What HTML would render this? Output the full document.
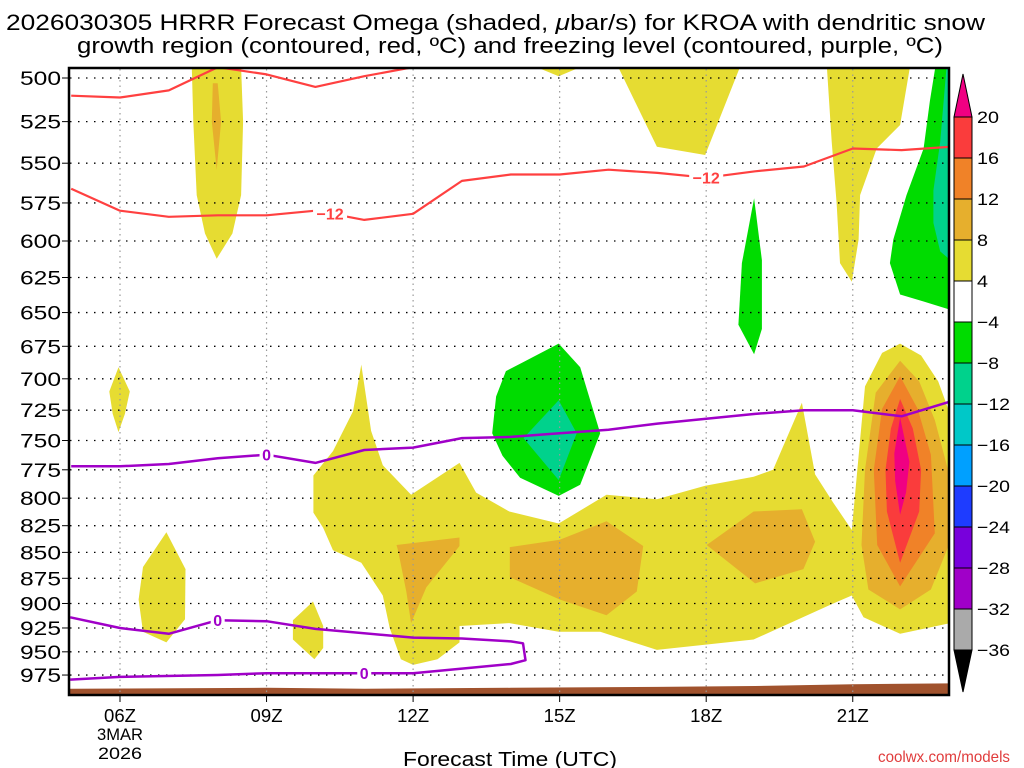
<!DOCTYPE html>
<html><head><meta charset="utf-8">
<style>
html,body{margin:0;padding:0;background:#fff;}
svg{display:block;font-family:"Liberation Sans",sans-serif;}
</style></head>
<body>
<svg id="chart" width="1024" height="768" viewBox="0 0 1024 768" xmlns="http://www.w3.org/2000/svg">
<defs><clipPath id="plotclip"><rect x="69" y="68" width="880" height="627"/></clipPath></defs>
<text x="6" y="30" font-size="22" textLength="979" lengthAdjust="spacingAndGlyphs" fill="#000">2026030305 HRRR Forecast Omega (shaded, <tspan font-style="italic">μ</tspan>bar/s) for KROA with dendritic snow</text>
<text x="77" y="53" font-size="22" textLength="866" lengthAdjust="spacingAndGlyphs" fill="#000">growth region (contoured, red, ºC) and freezing level (contoured, purple, ºC)</text>
<g id="shade" clip-path="url(#plotclip)"></g>
<g id="grid"></g>
<g id="lines" clip-path="url(#plotclip)"></g>
<g id="axes"></g>
<g id="cbar"></g>
<text x="403" y="766" font-size="20" textLength="214" lengthAdjust="spacingAndGlyphs" fill="#000">Forecast Time (UTC)</text>
<text x="878" y="762" font-size="16" textLength="132" lengthAdjust="spacingAndGlyphs" fill="#e03c3c">coolwx.com/models</text>
</svg>
<script>
// axis ticks
const pressureTicks = [500,525,550,575,600,625,650,675,700,725,750,775,800,825,850,875,900,925,950,975];
const timeTicks = [6,9,12,15,18,21];
const timeTickLabels = ["06Z","09Z","12Z","15Z","18Z","21Z"];
// contour series (hour -> pressure)
const hours = [5,6,7,8,9,10,11,12,13,14,15,16,17,18,19,20,21,22,23];
const dgzWarm = [566,580,584,583,583,580,586,582,561,557,557,554,556,559,555,552,541,542,540];
const dgzColdH = [5,6,7,8,9,10,11,12];
const dgzCold = [510,511,507,494,498,505,499,494];
const frzUpper = [772,772,770,765,762,769,758,756,748,747,744,741,736,732,728,725,725,730,718];
const frzLowerH = [4.98,6,7,8,9,10,12,13,14,14.25,14.3,14,13,12,11,9,8,6,4.98];
const frzLowerP = [914,925,931,917,918,926,935,936,939,941,959,963,968,973,973,973,975,977,980];
const groundH = [5,9,11,14,17,19,21,23];
const groundP = [990,989,990,989,988,987,985,984];
// shaded omega regions: [hour, pressure] vertices
const c4 = "#e6dc32", c8 = "#e6af2d", c12 = "#f08228", c16 = "#fa3c3c", c20 = "#f00082", cm4 = "#00dc00", cm8 = "#00d28c";
const regYellowTop = [[7.47,494],[8.48,494],[8.52,525],[8.48,570],[8.3,595],[7.98,612],[7.74,595],[7.57,570],[7.5,525]];
const regOrangeTop = [[7.9,503],[8.0,503],[8.07,525],[7.98,554],[7.88,525]];
const regYellowSmall6 = [[5.97,691],[6.2,710],[6.1,728],[5.97,743],[5.85,728],[5.78,710]];
const regYellow7 = [[6.95,831],[7.34,866],[7.33,916],[6.95,940],[6.47,929],[6.38,896],[6.47,864]];
const regYellow95 = [[9.95,898],[10.16,923],[10.16,946],[9.98,958],[9.54,937],[9.54,917]];
const regYellowBand = [[10.94,689],[11.14,742],[11.38,771],[11.96,797],[12.95,769],[13.29,795],[13.97,812],[14.98,823],[15.96,797],[16.99,801],[17.98,789],[18.97,781],[19.37,775],[19.96,719],[20.23,779],[20.6,804],[20.98,829],[21.25,706],[21.6,680],[21.97,673],[22.4,682],[22.75,702],[22.99,728],[22.99,920],[21.97,931],[21.22,914],[20.98,892],[20.6,900],[18.97,937],[16.99,948],[15.83,929],[14.98,929],[13.97,920],[12.95,923],[12.95,940],[12.5,958],[12.0,964],[11.75,958],[11.52,925],[11.38,892],[10.94,860],[10.36,848],[10.16,827],[9.96,813],[9.96,780],[10.36,759],[10.77,726]];
const regOrange12Z = [[11.66,843],[12.95,836],[12.95,844],[12.27,884],[11.96,920],[11.86,888],[11.69,848]];
const regOrange15Z = [[13.98,845],[15.0,838],[15.96,821],[16.71,844],[16.58,888],[15.96,912],[15.0,896],[13.98,874]];
const regOrange19Z = [[18.01,843],[18.97,812],[19.96,810],[20.23,840],[19.99,866],[19.0,880]];
const regCore8 = [[21.97,686],[22.36,702],[22.68,733],[22.95,775],[22.95,845],[22.6,886],[21.97,906],[21.32,886],[21.18,843],[21.25,775],[21.47,711]];
const regCore12 = [[21.97,698],[22.33,724],[22.6,762],[22.68,832],[21.97,883],[21.5,843],[21.43,775],[21.6,724]];
const regCore16 = [[21.97,716],[22.23,740],[22.4,775],[22.36,812],[21.97,860],[21.7,812],[21.67,775],[21.78,740]];
const regCore20 = [[21.97,731],[22.16,768],[22.09,795],[21.97,815],[21.87,785],[21.85,761]];
const regYellowTop15 = [[14.53,494],[15.42,494],[14.98,499]];
const regYellowTop17 = [[16.2,494],[18.69,494],[17.98,545],[16.99,540]];
const regYellowTop21 = [[20.47,494],[22.17,494],[21.97,527],[21.49,541],[21.15,570],[21.12,599],[20.98,628],[20.74,615],[20.67,575],[20.57,537]];
const regGreenRight = [[22.69,494],[23.0,494],[23.0,648],[22.45,642],[21.97,637],[21.76,615],[21.83,599],[22.1,570],[22.45,541],[22.58,513]];
const regTealRight = [[22.92,494],[23.0,494],[23.0,613],[22.79,607],[22.65,588],[22.65,567],[22.79,537]];
const regGreen19 = [[18.98,572],[19.14,613],[19.14,662],[18.98,681],[18.66,659],[18.73,615]];
const regGreen15 = [[13.9,694],[13.7,714],[13.62,744],[13.83,763],[14.19,782],[14.98,798],[15.42,788],[15.83,744],[15.42,691],[14.98,673],[14.26,687]];
const regTeal15 = [[14.98,717],[15.35,744],[14.98,784],[14.26,748]];
// colorbar
const cbLevels = [20,16,12,8,4,-4,-8,-12,-16,-20,-24,-28,-32,-36];
const cbColors = ["#fa3c3c","#f08228","#e6af2d","#e6dc32","#ffffff","#00dc00","#00d28c","#00c8c8","#00a0ff","#1e3cff","#7800dc","#a000c8","#aaaaaa"];

const NS = "http://www.w3.org/2000/svg";
function X(h){ return 120 + (h-6)*48.85; }
function Y(p){ return 78 + 894*Math.log(p/500); }
function mk(tag, attrs, parent){ const e=document.createElementNS(NS,tag); for(const k in attrs) e.setAttribute(k,attrs[k]); parent.appendChild(e); return e; }
const shade=document.getElementById('shade'), grid=document.getElementById('grid'), lines=document.getElementById('lines'), axes=document.getElementById('axes'), cbar=document.getElementById('cbar');

function poly(pts, color, name){
  const e = mk('polygon',{points: pts.map(q=>X(q[0]).toFixed(1)+','+Y(q[1]).toFixed(1)).join(' '), fill: color}, shade);
  
  
}
poly(regYellowTop, c4, 'omega-4-8-top-8z');
poly(regOrangeTop, c8, 'omega-8-12-top-8z');
poly(regYellowSmall6, c4, 'omega-4-8-6z');
poly(regYellow7, c4, 'omega-4-8-7z');
poly(regYellow95, c4, 'omega-4-8-10z');
poly(regYellowBand, c4, 'omega-4-8-low-band');
poly(regOrange12Z, c8, 'omega-8-12-12z');
poly(regOrange15Z, c8, 'omega-8-12-15z');
poly(regOrange19Z, c8, 'omega-8-12-19z');
poly(regCore8, c8, 'omega-8-12-22z');
poly(regCore12, c12, 'omega-12-16-22z');
poly(regCore16, c16, 'omega-16-20-22z');
poly(regCore20, c20, 'omega-20-plus-22z');
poly(regYellowTop15, c4, 'omega-4-8-top-15z');
poly(regYellowTop17, c4, 'omega-4-8-top-17z');
poly(regYellowTop21, c4, 'omega-4-8-top-21z');
poly(regGreenRight, cm4, 'omega-neg4-neg8-23z');
poly(regTealRight, cm8, 'omega-neg8-neg12-23z');
poly(regGreen19, cm4, 'omega-neg4-neg8-19z');
poly(regGreen15, cm4, 'omega-neg4-neg8-15z');
poly(regTeal15, cm8, 'omega-neg8-neg12-15z');

// ground
{
  const pts = groundH.map((h,i)=>X(h).toFixed(1)+','+Y(groundP[i]).toFixed(1));
  pts.unshift(X(4.9)+','+Y(groundP[0])); pts.push(X(23.1)+','+Y(groundP[groundP.length-1]));
  pts.push('960,700','60,700');
  const g = mk('polygon',{points:pts.join(' '), fill:'#a0522d'}, shade);
  
  
}

// grid
pressureTicks.forEach(p=>{
  const l = mk('line',{x1:70,x2:948,y1:Y(p),y2:Y(p),stroke:'#000','stroke-width':1.3,'stroke-dasharray':'1.5 6.5'}, grid);
  
  
});
timeTicks.forEach(h=>{
  const l = mk('line',{x1:X(h),x2:X(h),y1:69,y2:694,stroke:'#999','stroke-width':1.2,'stroke-dasharray':'1.5 4'}, grid);
  
  
});

// contour lines
function pline(hs, ps, color, w, name){
  const d = hs.map((h,i)=>(i?'L':'M')+X(h).toFixed(1)+' '+Y(ps[i]).toFixed(1)).join(' ');
  const e = mk('path',{d:d, fill:'none', stroke:color, 'stroke-width':w, 'stroke-linejoin':'round'}, lines);
  
  
}
pline(dgzColdH, dgzCold, '#ff4040', 2.2, 'dgz-contour-upper');
pline(hours, dgzWarm, '#ff4040', 2.2, 'dgz-contour-minus12');
pline(hours, frzUpper, '#a000c8', 2.5, 'freezing-level-upper');
pline(frzLowerH, frzLowerP, '#a000c8', 2.5, 'freezing-level-lower');

function clabel(h, hsArr, psArr, txt, color, name){
  let p = psArr[0];
  for(let i=0;i<hsArr.length-1;i++){ const a=hsArr[i], b=hsArr[i+1]; if((h-a)*(h-b)<=0 && a!==b){ p = psArr[i]+(psArr[i+1]-psArr[i])*(h-a)/(b-a); break; } }
  const x=X(h), y=Y(p), w = txt.length*10+4;
  const r = mk('rect',{x:x-w/2,y:y-8,width:w,height:16,fill:'#fff'}, lines);
  
  
  const t = mk('text',{x:x,y:y+6,'text-anchor':'middle','font-size':16,'font-weight':'bold',fill:color}, lines);
  t.textContent = txt;
  
  
}
clabel(10.3, hours, dgzWarm, '−12', '#ff4040', 'contour-label-minus12-a');
clabel(18.0, hours, dgzWarm, '−12', '#ff4040', 'contour-label-minus12-b');
clabel(9.0, hours, frzUpper, '0', '#a000c8', 'contour-label-0-upper');
clabel(8.0, frzLowerH.slice(0,9), frzLowerP.slice(0,9), '0', '#a000c8', 'contour-label-0-lower-a');
clabel(11.0, frzLowerH.slice(12), frzLowerP.slice(12), '0', '#a000c8', 'contour-label-0-lower-b');

// axes frame and labels
{
  const f = mk('rect',{x:69,y:68,width:880,height:627,fill:'none',stroke:'#000','stroke-width':2.5}, axes);
  
  
}
pressureTicks.forEach(p=>{
  mk('line',{x1:62,x2:69,y1:Y(p),y2:Y(p),stroke:'#000','stroke-width':1}, axes);
  const t = mk('text',{x:20,y:Y(p)+7,'font-size':19,textLength:41,lengthAdjust:'spacingAndGlyphs',fill:'#000'}, axes);
  t.textContent = p;
  
  
});
timeTicks.forEach((h,i)=>{
  mk('line',{x1:X(h),x2:X(h),y1:695,y2:702,stroke:'#000','stroke-width':1}, axes);
  const t = mk('text',{x:X(h)-16,y:722,'font-size':18,textLength:32,lengthAdjust:'spacingAndGlyphs',fill:'#000'}, axes);
  t.textContent = timeTickLabels[i];
  
  
});
{
  const t1 = mk('text',{x:X(6)-23,y:740,'font-size':17,textLength:46,lengthAdjust:'spacingAndGlyphs',fill:'#000'}, axes);
  t1.textContent = '3MAR';
  
  
  const t2 = mk('text',{x:X(6)-22,y:759,'font-size':17,textLength:44,lengthAdjust:'spacingAndGlyphs',fill:'#000'}, axes);
  t2.textContent = '2026';
  
  
}

// colorbar
{
  const cx=954, cw=18, top=117, step=(650-117)/13;
  const up = mk('polygon',{points:`${cx},${top} ${cx+cw},${top} ${cx+cw/2},74`, fill:'#f00082', stroke:'#000','stroke-width':1}, cbar);
  
  
  cbColors.forEach((c,i)=>{
    const r = mk('rect',{x:cx,y:top+i*step,width:cw,height:step,fill:c,stroke:'#000','stroke-width':1}, cbar);
    
    
  });
  const dn = mk('polygon',{points:`${cx},650 ${cx+cw},650 ${cx+cw/2},692`, fill:'#000', stroke:'#000','stroke-width':1}, cbar);
  
  
  cbLevels.forEach((v,i)=>{
    const s = v<0 ? '−'+Math.abs(v) : String(v);
    const t = mk('text',{x:977,y:top+i*step+6,'font-size':17,textLength:s.length*11,lengthAdjust:'spacingAndGlyphs',fill:'#000'}, cbar);
    t.textContent = s;
    
    
  });
}
</script>
</body></html>
